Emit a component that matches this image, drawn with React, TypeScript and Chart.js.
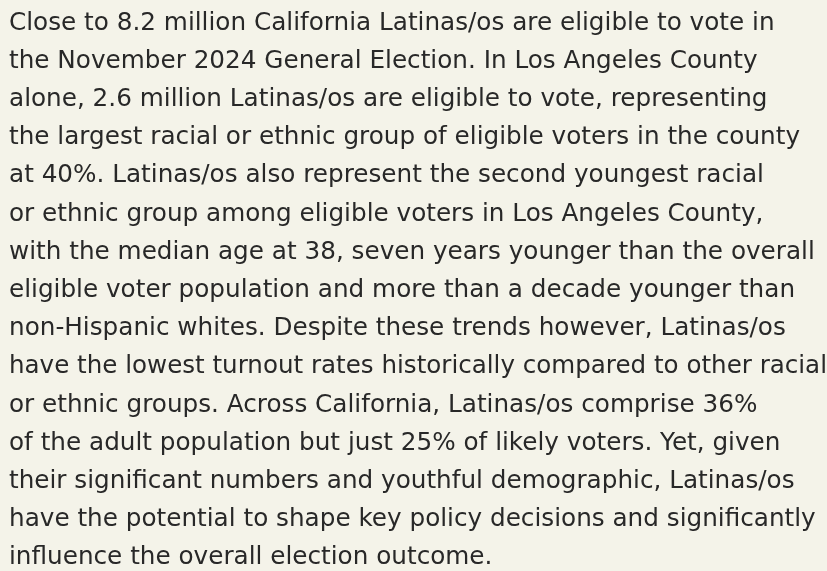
import React, { useEffect, useRef } from "react";
import { Chart, registerables } from "chart.js";

Chart.register(...registerables);

const paragraphLines: string[] = [
  "Close to 8.2 million California Latinas/os are eligible to vote in",
  "the November 2024 General Election. In Los Angeles County",
  "alone, 2.6 million Latinas/os are eligible to vote, representing",
  "the largest racial or ethnic group of eligible voters in the county",
  "at 40%. Latinas/os also represent the second youngest racial",
  "or ethnic group among eligible voters in Los Angeles County,",
  "with the median age at 38, seven years younger than the overall",
  "eligible voter population and more than a decade younger than",
  "non-Hispanic whites. Despite these trends however, Latinas/os",
  "have the lowest turnout rates historically compared to other racial",
  "or ethnic groups. Across California, Latinas/os comprise 36%",
  "of the adult population but just 25% of likely voters. Yet, given",
  "their significant numbers and youthful demographic, Latinas/os",
  "have the potential to shape key policy decisions and significantly",
  "influence the overall election outcome.",
];

const categories: string[] = [];
const values: number[] = [];

const BG = "#f4f3e9";
const TEXT = "#282828";

export default function App() {
  const ref = useRef<HTMLCanvasElement | null>(null);

  useEffect(() => {
    document.body.style.margin = "0";
    document.body.style.background = BG;
    if (!ref.current) return;
    const chart = new Chart(ref.current, {
      type: "bar",
      data: {
        labels: categories,
        datasets: [{ data: values, backgroundColor: TEXT }],
      },
      options: {
        animation: false,
        responsive: true,
        maintainAspectRatio: false,
        layout: { padding: { left: 9, right: 0, top: 0, bottom: 0 } },
        scales: {
          x: { display: false },
          y: { display: false },
        },
        plugins: {
          legend: { display: false },
          tooltip: { enabled: false },
          title: {
            display: true,
            text: paragraphLines,
            align: "start",
            color: TEXT,
            padding: { top: 4, bottom: 0 },
            font: {
              family: "'DejaVu Sans', sans-serif",
              size: 24.7,
              weight: "normal",
              lineHeight: 1.5466,
            },
          },
        },
      },
    });
    return () => chart.destroy();
  }, []);

  return (
    <div
      style={{
        position: "fixed",
        left: 0,
        top: 0,
        width: 827,
        height: 571,
        background: BG,
      }}
    >
      <canvas ref={ref} />
    </div>
  );
}
